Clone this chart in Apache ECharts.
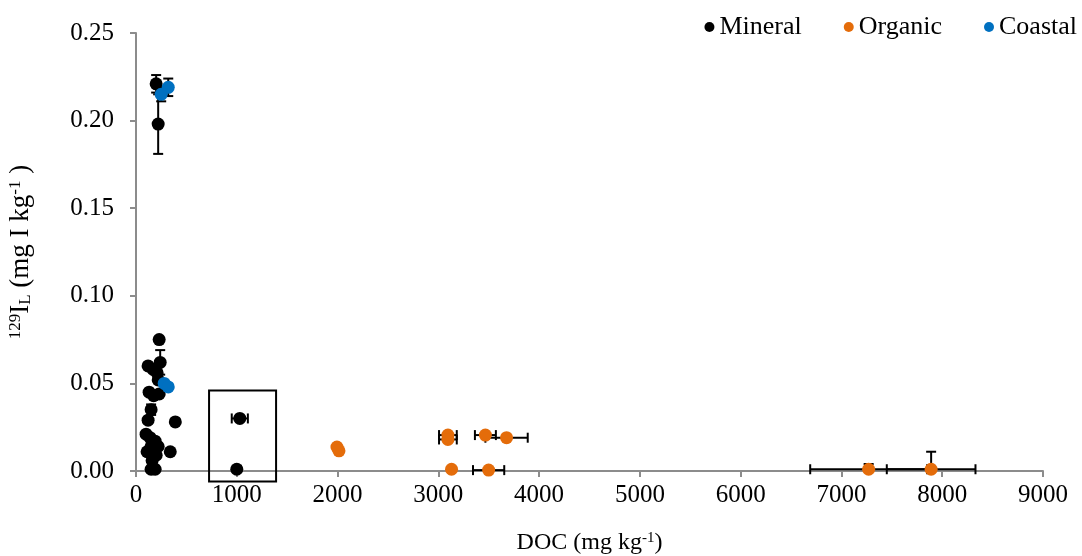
<!DOCTYPE html>
<html>
  <head>
    <meta charset="utf-8" />
    <title>129I vs DOC</title>
    <script src="https://cdn.jsdelivr.net/npm/echarts@6.0.0/dist/echarts.min.js"></script>
    <style>
      body { margin: 0; background: #fff; }
      #chart { width: 1082px; height: 556px; }
    </style>
  </head>
<body>
  <div id="chart"></div>
  <script type="text/javascript">
// DOC (mg/kg), 129I_L (mg I/kg), x error, y error
var mineralX    = [200, 220, 230, 240, 120, 170, 210, 220, 230, 130, 175, 150, 120, 390, 100, 140, 190, 150, 220, 340, 110, 200, 160, 150, 190, 1030, 1000];
var mineralY    = [0.221, 0.198, 0.075, 0.062, 0.060, 0.058, 0.056, 0.052, 0.044, 0.045, 0.043, 0.035, 0.029, 0.028, 0.021, 0.019, 0.017, 0.014, 0.014, 0.011, 0.011, 0.009, 0.006, 0.001, 0.001, 0.030, 0.001];
var mineralXErr = [0, 0, 0, 0, 0, 0, 0, 0, 0, 0, 0, 0, 0, 0, 0, 0, 0, 0, 0, 0, 0, 0, 0, 0, 0, 80, 0];
var mineralYErr = [0.005, 0.017, 0, 0.007, 0, 0, 0, 0, 0, 0, 0, 0.003, 0, 0, 0, 0, 0, 0, 0, 0, 0, 0, 0, 0, 0, 0, 0.002];

var organicX    = [1994, 2014, 3095, 3095, 3467, 3677, 3131, 3499, 7270, 7890];
var organicY    = [0.0137, 0.0115, 0.0205, 0.0180, 0.0205, 0.0190, 0.0010, 0.0005, 0.0010, 0.0010];
var organicXErr = [30, 30, 88, 88, 104, 210, 20, 155, 580, 440];
var organicYErr = [0.001, 0.001, 0.001, 0.001, 0, 0, 0.001, 0, 0.003, 0.010];

var coastalX    = [250, 320, 280, 320];
var coastalY    = [0.215, 0.219, 0.050, 0.048];
var coastalXErr = [0, 0, 0, 0];
var coastalYErr = [0.004, 0.005, 0, 0];

// highlighted box around the two mineral samples near 1000
var boxX = [725, 1390];
var boxY = [0.046, -0.006];

var serif = '"Liberation Serif", "Times New Roman", serif';

function pts(xs, ys) {
  return xs.map(function (x, i) { return [x, ys[i]]; });
}
function errs(xs, ys, xe, ye) {
  return xs.map(function (x, i) { return [x, ys[i], xe[i], ye[i]]; });
}

function renderErrors(params, api) {
  var x = api.value(0), y = api.value(1), xe = api.value(2), ye = api.value(3);
  var c = api.coord([x, y]);
  var cap = 5;
  var style = { stroke: '#000', lineWidth: 2 };
  var kids = [];
  function ln(x1, y1, x2, y2) {
    kids.push({ type: 'line', shape: { x1: x1, y1: y1, x2: x2, y2: y2 }, style: style });
  }
  if (xe > 0) {
    var l = api.coord([x - xe, y])[0];
    var r = api.coord([x + xe, y])[0];
    ln(l, c[1], r, c[1]);
    ln(l, c[1] - cap, l, c[1] + cap);
    ln(r, c[1] - cap, r, c[1] + cap);
  }
  if (ye > 0) {
    var t = api.coord([x, y + ye])[1];
    var low = y - ye;
    var b = api.coord([x, Math.max(low, 0)])[1];
    ln(c[0], t, c[0], b);
    ln(c[0] - cap, t, c[0] + cap, t);
    if (low >= 0) ln(c[0] - cap, b, c[0] + cap, b);
  }
  return { type: 'group', children: kids };
}

function renderBox(params, api) {
  var p1 = api.coord([api.value(0), api.value(1)]);
  var p2 = api.coord([api.value(2), api.value(3)]);
  return {
    type: 'rect',
    shape: { x: p1[0], y: p1[1], width: p2[0] - p1[0], height: p2[1] - p1[1] },
    style: { fill: 'none', stroke: '#000', lineWidth: 2 }
  };
}

var chart = echarts.init(document.getElementById('chart'));
var option = {
  animation: false,
  textStyle: { fontFamily: serif },
  grid: { left: 136, right: 39, top: 33, bottom: 85, outerBoundsMode: 'none', containLabel: false },
  legend: {
    data: ['Mineral', 'Organic', 'Coastal'],
    right: 0,
    top: 9,
    icon: 'circle',
    itemWidth: 10,
    itemHeight: 10,
    itemGap: 42,
    textStyle: { fontFamily: serif, fontSize: 26, color: '#000' }
  },
  xAxis: {
    type: 'value',
    min: 0,
    max: 9000,
    interval: 1000,
    name: '{b|DOC (mg kg}{sup|-1}{b|)}',
    nameLocation: 'middle',
    nameGap: 60,
    nameTextStyle: {
      rich: {
        b: { fontFamily: serif, fontSize: 24, color: '#000' },
        sup: { fontFamily: serif, fontSize: 15, color: '#000', verticalAlign: 'top' }
      }
    },
    splitLine: { show: false },
    axisLine: { lineStyle: { color: '#8c8c8c', width: 2 } },
    axisTick: { length: 6, lineStyle: { color: '#8c8c8c', width: 2 } },
    axisLabel: {
      fontFamily: serif, fontSize: 25, color: '#000', margin: 12,
      formatter: function (v) { return String(v); }
    }
  },
  yAxis: {
    type: 'value',
    min: 0,
    max: 0.25,
    interval: 0.05,
    name: '{sup|129}{b|I}{sub|L}{b| (mg I kg}{sup|-1}{b| )}',
    nameLocation: 'middle',
    nameGap: 102,
    nameTextStyle: {
      rich: {
        b: { fontFamily: serif, fontSize: 27, color: '#000' },
        sup: { fontFamily: serif, fontSize: 17, color: '#000', verticalAlign: 'top' },
        sub: { fontFamily: serif, fontSize: 17, color: '#000', verticalAlign: 'bottom' }
      }
    },
    splitLine: { show: false },
    axisLine: { show: true, lineStyle: { color: '#8c8c8c', width: 2 } },
    axisTick: { show: true, length: 6, lineStyle: { color: '#8c8c8c', width: 2 } },
    axisLabel: {
      fontFamily: serif, fontSize: 25, color: '#000', margin: 22,
      formatter: function (v) { return v.toFixed(2); }
    }
  },
  series: [
    {
      type: 'custom',
      name: 'box',
      renderItem: renderBox,
      data: [[boxX[0], boxY[0], boxX[1], boxY[1]]],
      encode: { x: [0, 2], y: [1, 3] },
      clip: false,
      silent: true,
      z: 1
    },
    {
      type: 'custom',
      name: 'errMineral',
      renderItem: renderErrors,
      data: errs(mineralX, mineralY, mineralXErr, mineralYErr),
      encode: { x: 0, y: 1 },
      silent: true,
      z: 1
    },
    {
      type: 'custom',
      name: 'errOrganic',
      renderItem: renderErrors,
      data: errs(organicX, organicY, organicXErr, organicYErr),
      encode: { x: 0, y: 1 },
      silent: true,
      z: 1
    },
    {
      type: 'custom',
      name: 'errCoastal',
      renderItem: renderErrors,
      data: errs(coastalX, coastalY, coastalXErr, coastalYErr),
      encode: { x: 0, y: 1 },
      silent: true,
      z: 1
    },
    {
      name: 'Mineral',
      type: 'scatter',
      symbolSize: 13,
      itemStyle: { color: '#000000', opacity: 1 },
      data: pts(mineralX, mineralY),
      z: 3
    },
    {
      name: 'Organic',
      type: 'scatter',
      symbolSize: 13,
      itemStyle: { color: '#E46C0A', opacity: 1 },
      data: pts(organicX, organicY),
      z: 3
    },
    {
      name: 'Coastal',
      type: 'scatter',
      symbolSize: 13,
      itemStyle: { color: '#0070C0', opacity: 1 },
      data: pts(coastalX, coastalY),
      z: 3
    }
  ]
};
chart.setOption(option);
  </script>
</body>
</html>
